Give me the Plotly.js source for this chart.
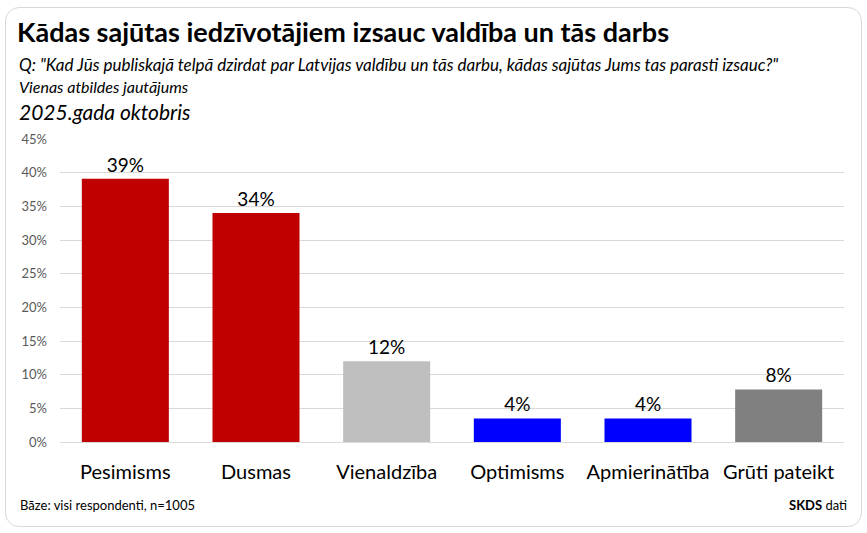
<!DOCTYPE html>
<html>
<head>
<meta charset="utf-8">
<script src="https://cdn.plot.ly/plotly-3.0.1.min.js"></script>
<style>
  html, body { margin: 0; padding: 0; background: #fff; }
  #frame { position: absolute; left: 5px; top: 7px; width: 855px; height: 518px;
           border: 1.5px solid #d9d9d9; border-radius: 14px; }
  #chart { position: absolute; left: 0; top: 0; width: 867px; height: 533px; }
</style>
</head>
<body>
<div id="frame"></div>
<div id="chart"></div>
<script>
const categories = ["Pesimisms", "Dusmas", "Vienaldzība", "Optimisms", "Apmierinātība", "Grūti pateikt"];
const values = [39.1, 34.0, 12.0, 3.5, 3.5, 7.8];
const valueLabels = ["39%", "34%", "12%", "4%", "4%", "8%"];
const barColors = ["#C00000", "#C00000", "#BFBFBF", "#0000FF", "#0000FF", "#808080"];
const yTickVals = [0, 5, 10, 15, 20, 25, 30, 35, 40, 45];
const yTickText = ["0%", "5%", "10%", "15%", "20%", "25%", "30%", "35%", "40%", "45%"];

const FONT = "Lato, 'Noto Sans', sans-serif";
const W = 867, H = 533;
const L = 60, R = 23, T = 139, B = 91;
const pw = W - L - R, ph = H - T - B;
const px = x => (x - L) / pw;
const py = y => (H - B - y) / ph;

const trace = {
  type: "bar",
  x: categories,
  y: values,
  marker: { color: barColors },
  text: valueLabels,
  textposition: "outside",
  textfont: { family: FONT, size: 19, color: "#000" },
  cliponaxis: false,
  hoverinfo: "skip"
};

const layout = {
  width: W, height: H,
  margin: { l: L, r: R, t: T, b: B, pad: 0 },
  paper_bgcolor: "rgba(0,0,0,0)",
  plot_bgcolor: "rgba(0,0,0,0)",
  bargap: 0.334,
  showlegend: false,
  font: { family: FONT },
  title: {
    text: "<b>Kādas sajūtas iedzīvotājiem izsauc valdība un tās darbs</b>",
    font: { family: FONT, size: 27, color: "#000" },
    xref: "container", yref: "container",
    x: 17 / W, y: 1 - 33 / H, xanchor: "left", yanchor: "middle"
  },
  xaxis: {
    type: "category",
    tickfont: { family: FONT, size: 20, color: "#000" },
    ticks: "", showline: false, showgrid: false,
    ticklabelstandoff: 16
  },
  yaxis: {
    range: [0, 45],
    tickvals: yTickVals, ticktext: yTickText,
    tickfont: { family: FONT, size: 13, color: "#595959" },
    showgrid: true, gridcolor: "#D9D9D9", gridwidth: 1,
    zeroline: true, zerolinecolor: "#D9D9D9", zerolinewidth: 1,
    showline: false, ticks: "",
    ticklabelstandoff: 12
  },
  annotations: [
    { text: "<i>Q: \"Kad Jūs publiskajā telpā dzirdat par Latvijas valdību un tās darbu, kādas sajūtas Jums tas parasti izsauc?\"</i>",
      xref: "paper", yref: "paper", x: px(17), y: py(65), xanchor: "left", yanchor: "middle",
      showarrow: false, font: { family: FONT, size: 17, color: "#000" } },
    { text: "<i>Vienas atbildes jautājums</i>",
      xref: "paper", yref: "paper", x: px(17), y: py(87), xanchor: "left", yanchor: "middle",
      showarrow: false, font: { family: FONT, size: 16, color: "#000" } },
    { text: "<i>2025.gada oktobris</i>",
      xref: "paper", yref: "paper", x: px(17), y: py(111), xanchor: "left", yanchor: "middle",
      showarrow: false, font: { family: FONT, size: 21, color: "#000" } },
    { text: "Bāze: visi respondenti, n=1005",
      xref: "paper", yref: "paper", x: px(18), y: py(505), xanchor: "left", yanchor: "middle",
      showarrow: false, font: { family: FONT, size: 13, color: "#000" } },
    { text: "<b>SKDS</b> dati",
      xref: "paper", yref: "paper", x: px(849), y: py(505), xanchor: "right", yanchor: "middle",
      showarrow: false, font: { family: FONT, size: 13, color: "#000" } }
  ]
};

Plotly.newPlot("chart", [trace], layout, { displayModeBar: false, staticPlot: true });
</script>
</body>
</html>
